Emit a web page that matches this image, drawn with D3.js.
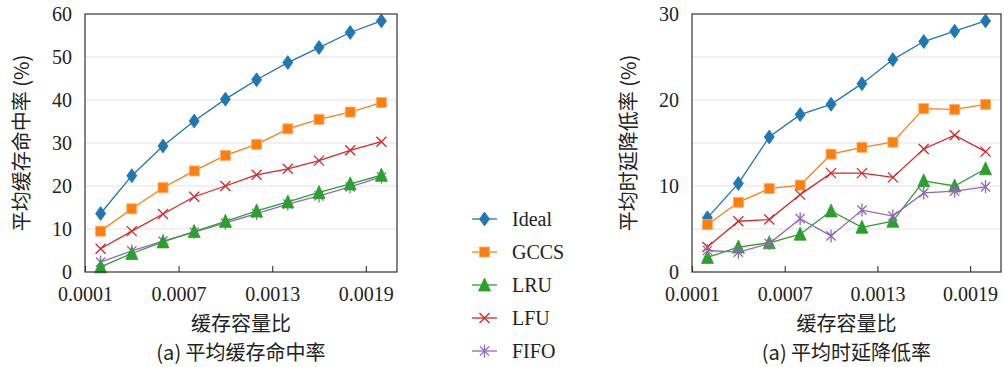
<!DOCTYPE html>
<html>
<head>
<meta charset="utf-8">
<script src="https://cdn.jsdelivr.net/npm/d3@7"></script>
<style>
  body { margin: 0; background: #fff; }
  svg { display: block; }
</style>
</head>
<body>
<svg id="chart" width="1004" height="367"></svg>
<script>
// capacity ratio (x)
const ratios = [0.0002, 0.0004, 0.0006, 0.0008, 0.0010, 0.0012, 0.0014, 0.0016, 0.0018, 0.0020];
const xTicks = [0.0001, 0.0007, 0.0013, 0.0019];
const seriesNames = ["Ideal", "GCCS", "LRU", "LFU", "FIFO"];

// (a) 平均缓存命中率 (%)
const hitIdeal = [13.6, 22.4, 29.3, 35.1, 40.2, 44.7, 48.7, 52.2, 55.7, 58.4];
const hitGCCS  = [9.5, 14.7, 19.6, 23.5, 27.1, 29.7, 33.3, 35.5, 37.2, 39.4];
const hitLRU   = [1.2, 4.3, 7.0, 9.4, 11.8, 14.2, 16.3, 18.5, 20.5, 22.5];
const hitLFU   = [5.4, 9.5, 13.5, 17.5, 20.0, 22.6, 24.0, 25.9, 28.3, 30.3];
const hitFIFO  = [2.3, 4.9, 7.2, 9.3, 11.4, 13.6, 15.8, 17.7, 19.8, 22.1];

// (a) 平均时延降低率 (%)
const delIdeal = [6.3, 10.3, 15.7, 18.3, 19.5, 21.9, 24.7, 26.8, 28.0, 29.2];
const delGCCS  = [5.5, 8.1, 9.7, 10.1, 13.7, 14.5, 15.1, 19.0, 18.9, 19.5];
const delLRU   = [1.7, 2.9, 3.4, 4.4, 7.1, 5.2, 5.9, 10.6, 10.0, 12.0];
const delLFU   = [2.9, 5.9, 6.1, 9.0, 11.5, 11.5, 11.0, 14.3, 15.9, 14.0];
const delFIFO  = [2.5, 2.3, 3.3, 6.2, 4.2, 7.2, 6.5, 9.2, 9.4, 9.9];

const colors = { Ideal: "#1f77b4", GCCS: "#ff7f0e", LRU: "#2ca02c", LFU: "#d62728", FIFO: "#9467bd" };
const SERIF = '"Liberation Serif", "DejaVu Serif", "Times New Roman", serif';
const CJK = '"Noto Sans CJK SC", "Noto Sans", sans-serif';

const svg = d3.select("#chart");

function styleNum(sel) {
  sel.style("font-family", SERIF).style("font-size", "20px").style("fill", "#222");
}
function styleCjk(sel) {
  sel.style("font-family", CJK).style("font-size", "20px").style("fill", "#222");
}

// marker drawing
function drawMarker(g, name, cx, cy) {
  const c = colors[name];
  if (name === "Ideal") {
    g.append("path").attr("d", `M${cx},${cy - 7}L${cx + 5},${cy}L${cx},${cy + 7}L${cx - 5},${cy}Z`)
      .attr("fill", c).attr("stroke", c).attr("stroke-width", 0.8);
  } else if (name === "GCCS") {
    g.append("rect").attr("x", cx - 5).attr("y", cy - 5).attr("width", 10).attr("height", 10)
      .attr("fill", c).attr("stroke", "#ffb070").attr("stroke-width", 0.8);
  } else if (name === "LRU") {
    g.append("path").attr("d", `M${cx},${cy - 7}L${cx + 6},${cy + 6}L${cx - 6},${cy + 6}Z`)
      .attr("fill", c).attr("stroke", c).attr("stroke-width", 0.8);
  } else if (name === "LFU") {
    const r = 5;
    g.append("path").attr("d", `M${cx - r},${cy - r}L${cx + r},${cy + r}M${cx - r},${cy + r}L${cx + r},${cy - r}`)
      .attr("stroke", c).attr("stroke-width", 1.3).attr("fill", "none");
  } else {
    const r = 6.5, dx = r * Math.cos(Math.PI / 4), dy = r * Math.sin(Math.PI / 4);
    g.append("path").attr("d", `M${cx},${cy - r}L${cx},${cy + r}M${cx - dx},${cy - dy}L${cx + dx},${cy + dy}M${cx - dx},${cy + dy}L${cx + dx},${cy - dy}`)
      .attr("stroke", c).attr("stroke-width", 1.3).attr("fill", "none");
  }
}

function panel(opts) {
  const { x0, x1, yMax, labelTicks, gridTicks, series, yTitle, caption } = opts;
  const top = 14, bottom = 272;
  const x = d3.scaleLinear().domain([0.0001, 0.0021]).range([x0, x1]);
  const y = d3.scaleLinear().domain([0, yMax]).range([bottom, top]);
  const g = svg.append("g");

  // grid
  g.selectAll("line.grid").data(gridTicks).join("line")
    .attr("x1", x0).attr("x2", x1)
    .attr("y1", d => y(d)).attr("y2", d => y(d))
    .attr("stroke", "#e3e3e3").attr("stroke-width", 1);

  // y axis labels (no tick marks)
  const yAxis = d3.axisLeft(y).tickValues(labelTicks).tickSize(0).tickPadding(13).tickFormat(d3.format("d"));
  const ya = g.append("g").attr("transform", `translate(${x0},0)`).call(yAxis);
  ya.select(".domain").remove();
  ya.selectAll("text").call(styleNum);

  // x axis with inward ticks
  const xAxis = d3.axisBottom(x).tickValues(xTicks).tickSize(-6).tickPadding(15).tickFormat(d3.format(".4f"));
  const xa = g.append("g").attr("transform", `translate(0,${bottom})`).call(xAxis);
  xa.select(".domain").remove();
  xa.selectAll(".tick line").attr("stroke", "#333").attr("stroke-width", 1.1);
  xa.selectAll("text").call(styleNum);

  // lines + markers
  const line = d3.line().x((d, i) => x(ratios[i])).y(d => y(d));
  series.forEach(s => {
    g.append("path").datum(s.values).attr("d", line)
      .attr("fill", "none").attr("stroke", colors[s.name]).attr("stroke-width", 1.3);
    const mg = g.append("g");
    s.values.forEach((v, i) => drawMarker(mg, s.name, x(ratios[i]), y(v)));
  });

  // frame
  g.append("rect").attr("x", x0).attr("y", top).attr("width", x1 - x0).attr("height", bottom - top)
    .attr("fill", "none").attr("stroke", "#333").attr("stroke-width", 1.2);

  const cx = (x0 + x1) / 2;
  g.append("text").attr("text-anchor", "middle")
    .attr("transform", `translate(${x0 - 63},${(top + bottom) / 2}) rotate(-90)`)
    .attr("dy", "0.35em").text(yTitle).call(styleCjk);
  g.append("text").attr("text-anchor", "middle")
    .attr("x", cx).attr("y", 331).text("缓存容量比").call(styleCjk);
  g.append("text").attr("text-anchor", "middle")
    .attr("x", cx).attr("y", 360).text(caption).call(styleCjk);
}

panel({
  x0: 85, x1: 397, yMax: 60,
  labelTicks: [0, 10, 20, 30, 40, 50, 60], gridTicks: [10, 20, 30, 40, 50],
  series: [
    { name: "Ideal", values: hitIdeal }, { name: "GCCS", values: hitGCCS },
    { name: "LFU", values: hitLFU }, { name: "FIFO", values: hitFIFO }, { name: "LRU", values: hitLRU }
  ],
  yTitle: "平均缓存命中率 (%)", caption: "(a) 平均缓存命中率"
});

panel({
  x0: 692, x1: 1001, yMax: 30,
  labelTicks: [0, 10, 20, 30], gridTicks: [5, 10, 15, 20, 25],
  series: [
    { name: "Ideal", values: delIdeal }, { name: "GCCS", values: delGCCS },
    { name: "LFU", values: delLFU }, { name: "LRU", values: delLRU }, { name: "FIFO", values: delFIFO }
  ],
  yTitle: "平均时延降低率 (%)", caption: "(a) 平均时延降低率"
});

// legend
const leg = svg.append("g");
const legY = d3.scalePoint().domain(seriesNames).range([219, 351]);
seriesNames.forEach(n => {
  const yy = legY(n);
  leg.append("line").attr("x1", 472).attr("x2", 497).attr("y1", yy).attr("y2", yy)
    .attr("stroke", colors[n]).attr("stroke-width", 1.3);
  drawMarker(leg, n, 484.5, yy);
  leg.append("text").attr("x", 512).attr("y", yy).attr("dy", "0.35em").text(n).call(styleNum);
});
</script>
</body>
</html>
